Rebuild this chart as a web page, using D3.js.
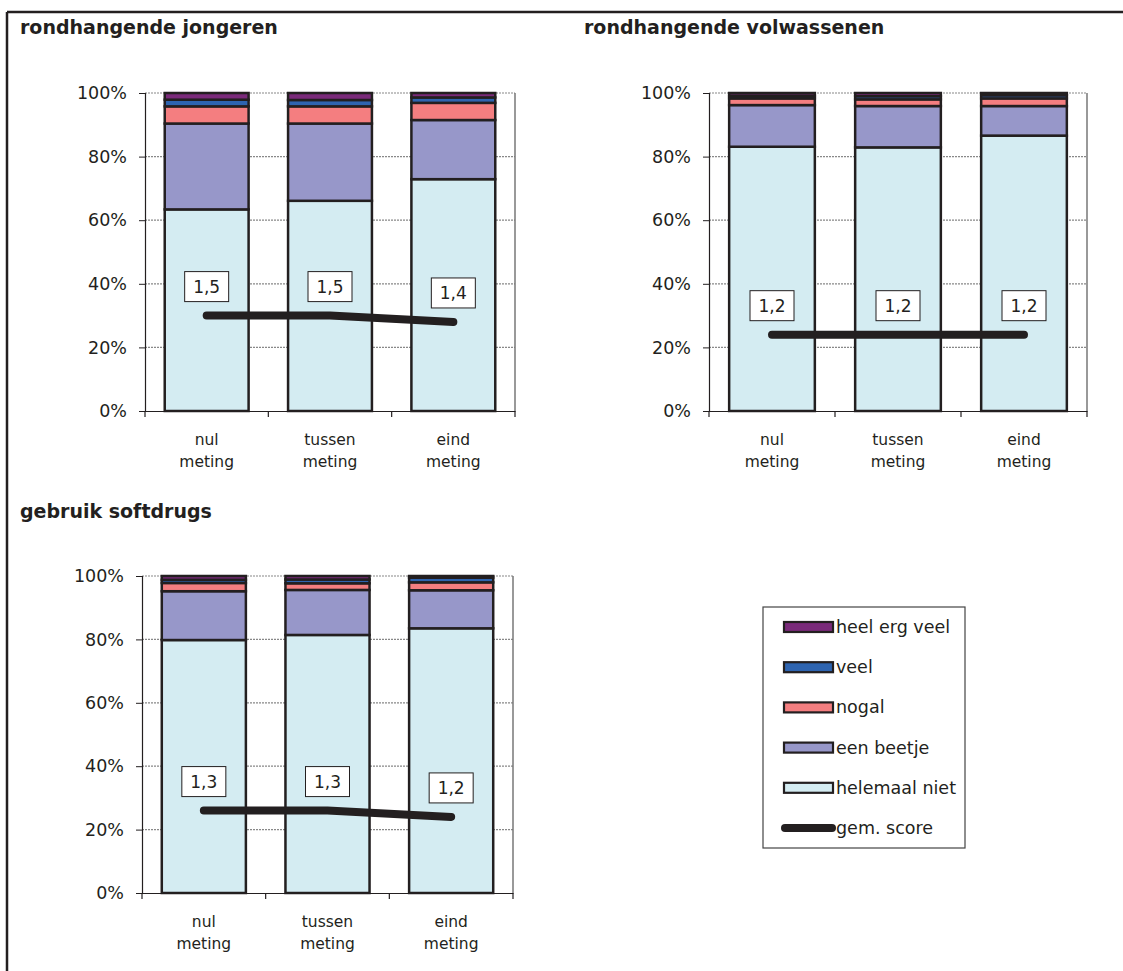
<!DOCTYPE html>
<html><head><meta charset="utf-8">
<script src="https://cdn.jsdelivr.net/npm/d3@7"></script>
<style>
body{margin:0;background:#fff;}
svg text{font-family:"DejaVu Sans",sans-serif;fill:#231f20;}
</style></head>
<body>
<svg id="c" width="1123" height="971"></svg>
<script>
const categories = ["nul meting","tussen meting","eind meting"];
const seriesNames = ["helemaal niet","een beetje","nogal","veel","heel erg veel"];
const seriesColors = ["#d4ecf2","#9797c9","#f47e80","#2e64b0","#7a2a7a"];
const panelTitles = ["rondhangende jongeren","rondhangende volwassenen","gebruik softdrugs"];
// per panel: rows = categories, columns = series (percentages)
const jongeren    = [[63.4,27.0,5.4,2.1,2.1],[66.1,24.3,5.4,2.0,2.2],[72.9,18.6,5.4,1.7,1.4]];
const volwassenen = [[83.1,13.1,2.1,0.8,0.9],[82.9,13.0,2.1,1.0,1.0],[86.6,9.3,2.4,1.0,0.7]];
const softdrugs   = [[79.8,15.4,2.6,1.0,1.2],[81.4,14.2,2.1,1.2,1.1],[83.5,12.0,2.5,1.5,0.5]];
const scoreJongeren    = [1.5,1.5,1.4];
const scoreVolwassenen = [1.2,1.2,1.2];
const scoreSoftdrugs   = [1.3,1.3,1.2];
const scoreLabels = [["1,5","1,5","1,4"],["1,2","1,2","1,2"],["1,3","1,3","1,2"]];
const yTicks = [0,20,40,60,80,100];
const scoreMax = 5;

const svg = d3.select("#c");
// outer frame
svg.append("line").attr("x1",7).attr("x2",1123).attr("y1",12).attr("y2",12).attr("stroke","#231f20").attr("stroke-width",2.5);
svg.append("line").attr("x1",7).attr("x2",7).attr("y1",12).attr("y2",971).attr("stroke","#231f20").attr("stroke-width",2.5);

const panels = [
  {data:jongeren, score:scoreJongeren, labels:scoreLabels[0], title:panelTitles[0], tx:20, ty:34, x0:145, x1:515, y0:411, y1:93},
  {data:volwassenen, score:scoreVolwassenen, labels:scoreLabels[1], title:panelTitles[1], tx:584, ty:34, x0:709, x1:1087, y0:411, y1:93},
  {data:softdrugs, score:scoreSoftdrugs, labels:scoreLabels[2], title:panelTitles[2], tx:20, ty:518, x0:142, x1:513, y0:893, y1:576}
];

panels.forEach(p=>{
  svg.append("text").attr("x",p.tx).attr("y",p.ty).attr("font-size",19).attr("font-weight",700).text(p.title);
  const x = d3.scaleBand().domain(categories).range([p.x0,p.x1]).paddingInner(0.32).paddingOuter(0.16);
  const y = d3.scaleLinear().domain([0,100]).range([p.y0,p.y1]);
  const g = svg.append("g");
  // gridlines
  g.selectAll(".grid").data(yTicks.filter(t=>t>0)).join("line")
    .attr("x1",p.x0).attr("x2",p.x1).attr("y1",d=>y(d)).attr("y2",d=>y(d))
    .attr("stroke","#888").attr("stroke-width",1.2).attr("stroke-dasharray","2,1");
  // right border
  g.append("line").attr("x1",p.x1).attr("x2",p.x1).attr("y1",y(100)).attr("y2",y(0)).attr("stroke","#777").attr("stroke-width",1.5);
  // y axis
  const ya = g.append("g").attr("transform",`translate(${p.x0},0)`)
    .call(d3.axisLeft(y).tickValues(yTicks).tickFormat(d=>d+"%").tickSize(6).tickPadding(12));
  ya.select(".domain").attr("stroke","#231f20").attr("stroke-width",1.2);
  ya.selectAll(".tick line").attr("stroke","#231f20");
  ya.selectAll("text").attr("font-size",17.5).attr("font-family","DejaVu Sans, sans-serif").attr("fill","#231f20");
  // x axis
  const xa = g.append("g").attr("transform",`translate(0,${p.y0})`)
    .call(d3.axisBottom(x).tickValues([]).tickSize(0));
  xa.select(".domain").attr("stroke","#231f20").attr("stroke-width",1.2);
  const bounds = categories.map(c=>x(c)-x.step()*x.paddingInner()/2).concat([p.x1]);
  bounds[0]=p.x0;
  g.selectAll(".xt").data(bounds).join("line").attr("x1",d=>d).attr("x2",d=>d)
    .attr("y1",p.y0).attr("y2",p.y0+6).attr("stroke","#231f20").attr("stroke-width",1.2);
  categories.forEach(c=>{
    const parts=c.split(" ");
    const t=g.append("text").attr("text-anchor","middle").attr("font-size",15.5);
    parts.forEach((s,i)=>t.append("tspan").attr("x",x(c)+x.bandwidth()/2).attr("y",p.y0+34+i*22).text(s));
  });
  // stacked bars
  const rows = p.data.map((r,i)=>{const o={cat:categories[i]};seriesNames.forEach((s,j)=>o[s]=r[j]);return o;});
  const stacked = d3.stack().keys(seriesNames)(rows);
  stacked.forEach((layer,si)=>{
    g.selectAll(null).data(layer).join("rect")
      .attr("x",d=>x(d.data.cat)).attr("width",x.bandwidth())
      .attr("y",d=>y(Math.min(d[1],100))).attr("height",d=>y(d[0])-y(Math.min(d[1],100)))
      .attr("fill",seriesColors[si]).attr("stroke","#231f20").attr("stroke-width",2.5);
  });
  // score line
  const ys = d3.scaleLinear().domain([0,scoreMax]).range([p.y0,p.y1]);
  const cx = c=>x(c)+x.bandwidth()/2;
  g.append("path").datum(p.score).attr("fill","none").attr("stroke","#231f20").attr("stroke-width",8)
    .attr("stroke-linecap","round").attr("stroke-linejoin","round")
    .attr("d",d3.line().x((d,i)=>cx(categories[i])).y(d=>ys(d)));
  p.score.forEach((s,i)=>{
    const px=cx(categories[i]), py=ys(s)-29;
    g.append("rect").attr("x",px-22).attr("y",py-15).attr("width",44).attr("height",30)
      .attr("fill","#fff").attr("stroke","#231f20").attr("stroke-width",1);
    g.append("text").attr("x",px).attr("y",py+6).attr("text-anchor","middle").attr("font-size",17).text(p.labels[i]);
  });
});

// legend
const lg = svg.append("g");
lg.append("rect").attr("x",763).attr("y",607).attr("width",202).attr("height",241).attr("fill","#fff").attr("stroke","#444").attr("stroke-width",1.2);
const legendItems = seriesNames.map((s,i)=>({name:s,color:seriesColors[i]})).reverse();
legendItems.forEach((it,i)=>{
  const cy = 627+i*40.2;
  lg.append("rect").attr("x",784).attr("y",cy-5).attr("width",49).attr("height",10).attr("fill",it.color).attr("stroke","#231f20").attr("stroke-width",2.2);
  lg.append("text").attr("x",836).attr("y",cy+6).attr("font-size",17.5).text(it.name);
});
const gy = 627+5*40.2;
lg.append("line").attr("x1",785).attr("x2",832).attr("y1",gy).attr("y2",gy).attr("stroke","#231f20").attr("stroke-width",8).attr("stroke-linecap","round");
lg.append("text").attr("x",836).attr("y",gy+6).attr("font-size",17.5).text("gem. score");
</script>
</body></html>
